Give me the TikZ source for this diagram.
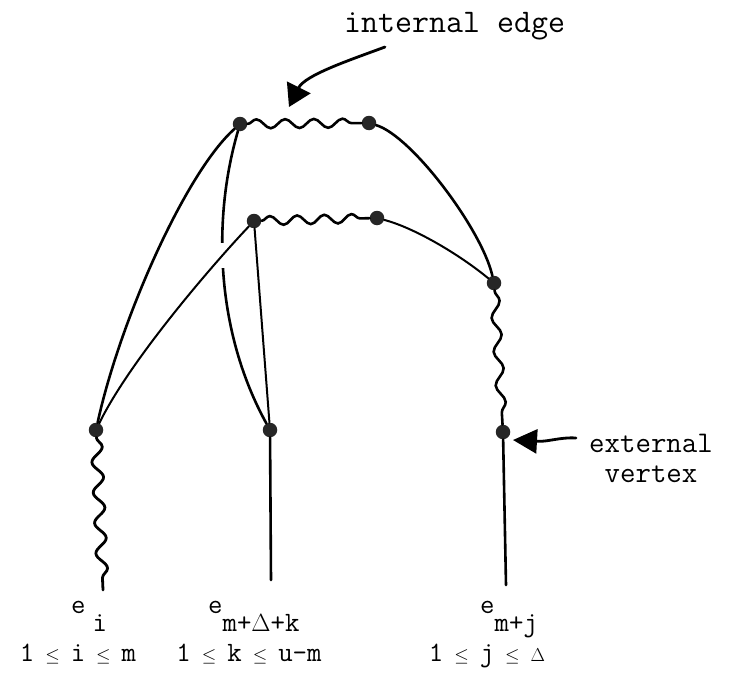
\documentclass[tikz,border=0pt]{standalone}
\usepackage{graphicx}
\usetikzlibrary{decorations.pathmorphing, arrows.meta}

% small relation signs for the index ranges
\newcommand{\leqs}{\scalebox{0.75}{$\leq$}}
\newcommand{\dlt}{\scalebox{0.75}{$\Delta$}}

\begin{document}
\begin{tikzpicture}[x=1pt, y=-1pt,
  dot/.style={circle, fill=black!85, draw=none, minimum size=14.5pt, inner sep=0pt},
  edge/.style={line width=2.6pt, line cap=round},
  thinedge/.style={line width=2pt, line cap=round},
  wavy/.style={line width=2.6pt, line cap=round, decorate,
    decoration={snake, amplitude=4.5pt, segment length=#1}},
  pointer/.style={line width=2.8pt, line cap=round},
  note/.style={inner sep=0pt, font=\ttfamily\fontsize{33}{28}\selectfont},
  lbl/.style={inner sep=0pt, font=\ttfamily\fontsize{28}{30}\selectfont},
]
\useasboundingbox (0,0) rectangle (734,677);

% vertices
\node[dot] (A) at (240,124) {};
\node[dot] (B) at (369,123) {};
\node[dot] (C) at (254,221) {};
\node[dot] (D) at (377,218) {};
\node[dot] (E) at (494,283) {};
\node[dot] (F) at (96,430) {};
\node[dot] (G) at (270,430) {};
\node[dot] (H) at (503,432) {};

% free ends of the external legs
\coordinate (Fe) at (103,590);
\coordinate (Ge) at (271,580);
\coordinate (He) at (506,585);

% wavy (internal) edges
\draw[wavy=28.7] (A) -- (B);
\draw[wavy=27.2] (C) -- (D);
\draw[wavy=33.8] (E) -- (H);
\draw[wavy=30.4, decoration={amplitude=5.5pt}, line width=2.8pt] (F) -- (Fe);

% plain edges
\draw[edge] (A) .. controls (186,172) and (120,320) .. (F);
\begin{scope}
  \clip (0,0) rectangle (734,242);
  \draw[edge] (A) .. controls (212,220) and (216,332) .. (G);
\end{scope}
\begin{scope}
  \clip (0,268) rectangle (734,677);
  \draw[edge] (A) .. controls (212,220) and (216,332) .. (G);
\end{scope}
\draw[thinedge] (C) .. controls (215,262) and (130,360) .. (F);
\draw[thinedge] (C) -- (G);
\draw[edge] (B) .. controls (412,136) and (482,230) .. (E);
\draw[thinedge] (D) .. controls (415,228) and (460,255) .. (E);
\draw[edge] (G) -- (Ge);
\draw[edge] (H) -- (He);

% annotations
\node[note, anchor=base west] (ie) at (344,33) {internal edge};
\coordinate (ieS) at (385,47);
\coordinate (ieT) at (289,107);
\draw[pointer, -{Triangle[length=22pt, width=26pt]}]
  (ieS) .. controls (350,60) and (305,75) .. (ieT);

% two-line note; its base anchor sits on the last line
\node[note, anchor=base, align=center, font=\ttfamily\fontsize{30}{30}\selectfont]
  (ev) at (651,482) {external\\vertex};
\coordinate (evS) at (576,438);
\coordinate (evT) at (513,440);
\draw[pointer, -{Triangle[length=24pt, width=24pt]}]
  (evS) .. controls (560,437) and (548,442) .. (evT);

% leg labels
\node[lbl, anchor=base west] (l1) at (71,613) {e\hspace{7pt}\raisebox{-18pt}{i}};
\node[lbl, anchor=base west] (l2) at (208,613) {e\raisebox{-18pt}{m+$\Delta$+k}};
\node[lbl, anchor=base west] (l3) at (480,613) {e\raisebox{-18pt}{m+j}};
\node[lbl, anchor=base] (r1) at (78,661) {\spaceskip=11pt 1 \leqs{} i \leqs{} m};
\node[lbl, anchor=base] (r2) at (249,661) {\spaceskip=11pt 1 \leqs{} k \leqs{} u-m};
\node[lbl, anchor=base] (r3) at (487,661) {\spaceskip=11pt 1 \leqs{} j \leqs{} \dlt};
\end{tikzpicture}
\end{document}
